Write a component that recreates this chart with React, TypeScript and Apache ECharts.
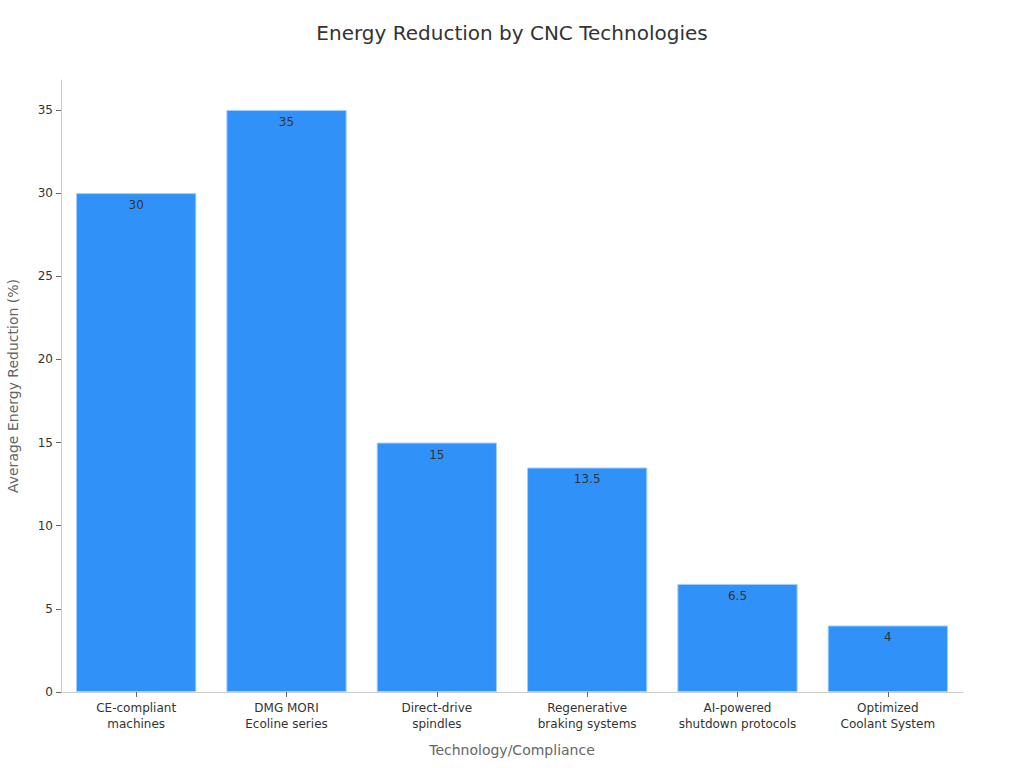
import React, { useEffect, useRef } from "react";
import * as echarts from "echarts";

const categories = [
  "CE-compliant\nmachines",
  "DMG MORI\nEcoline series",
  "Direct-drive\nspindles",
  "Regenerative\nbraking systems",
  "AI-powered\nshutdown protocols",
  "Optimized\nCoolant System",
];
const values = [30, 35, 15, 13.5, 6.5, 4];
const yTicks = [0, 5, 10, 15, 20, 25, 30, 35];

export default function App() {
  const ref = useRef<HTMLDivElement>(null);
  useEffect(() => {
    document.body.style.margin = "0";
    const chart = echarts.init(ref.current!, null, { renderer: "svg" });
    const font = "DejaVu Sans";
    chart.setOption({
      animation: false,
      textStyle: { fontFamily: font },
      title: {
        text: "Energy Reduction by CNC Technologies",
        left: "center",
        top: 18,
        textStyle: { fontSize: 20, fontWeight: "normal", color: "#333", fontFamily: font },
      },
      grid: { left: 61, right: 61, top: 80, bottom: 76, containLabel: false, outerBoundsMode: "none" },
      xAxis: {
        type: "category",
        data: categories,
        name: "Technology/Compliance",
        nameLocation: "middle",
        nameGap: 51,
        nameTextStyle: { fontSize: 14, color: "#666", fontFamily: font },
        axisLine: { show: true, lineStyle: { color: "#ccc" } },
        axisTick: { show: true, alignWithLabel: true, lineStyle: { color: "#666" } },
        axisLabel: { fontSize: 12, color: "#333", lineHeight: 16, margin: 8, interval: 0, fontFamily: font },
      },
      yAxis: {
        type: "value",
        min: 0,
        max: 36.8,
        interval: 5,
        name: "Average Energy Reduction (%)",
        nameLocation: "middle",
        nameGap: 41,
        nameTextStyle: { fontSize: 14, color: "#666", fontFamily: font },
        axisLine: { show: true, lineStyle: { color: "#ccc" } },
        axisTick: { show: true, customValues: yTicks, lineStyle: { color: "#666" } },
        splitLine: { show: false },
        axisLabel: {
          fontSize: 12,
          color: "#333",
          margin: 8,
          fontFamily: font,
          customValues: yTicks,
        },
      },
      series: [
        {
          type: "bar",
          data: values,
          barCategoryGap: "20%",
          itemStyle: { color: "#3092F8", borderColor: "#9fd0ff", borderWidth: 1 },
          label: {
            show: true,
            position: "insideTop",
            distance: 6,
            fontSize: 12,
            color: "#333",
            fontFamily: font,
          },
        },
      ],
    });
    return () => chart.dispose();
  }, []);
  return <div ref={ref} style={{ width: 1024, height: 768 }} />;
}
